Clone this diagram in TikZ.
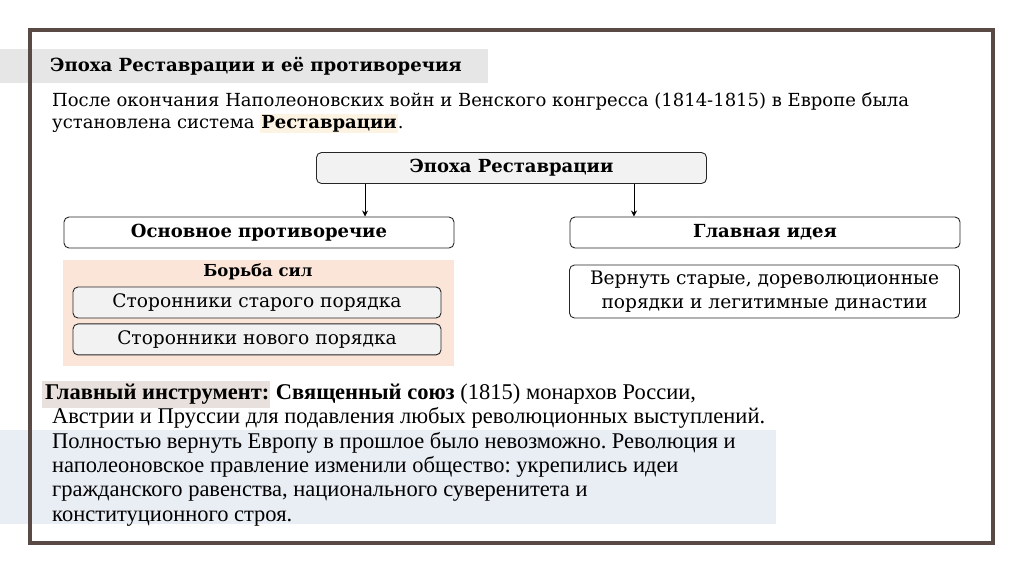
\documentclass[tikz,border=0pt]{standalone}
\usepackage{fontspec}
\setmainfont{DejaVu Serif}
\newfontfamily\narrowfont{Liberation Serif}
\usepackage{xcolor}
\usetikzlibrary{positioning, arrows.meta}
\frenchspacing

\definecolor{framebrown}{HTML}{594A45}
\definecolor{titlegray}{HTML}{E7E6E6}
\definecolor{cream}{HTML}{FDF3E2}
\definecolor{peach}{HTML}{FAE5D8}
\definecolor{boxgray}{HTML}{F2F2F2}
\definecolor{toolbg}{HTML}{E8E0DC}
\definecolor{bluebg}{HTML}{E9EDF4}

\begin{document}
\begin{tikzpicture}[x=1pt, y=-1pt,
      box/.style={draw=black!85, rounded corners=5pt, line width=0.9pt, minimum width=390pt, minimum height=31pt, inner sep=0pt, align=center, font=\fontsize{18}{20}\selectfont\bfseries},
      sidebox/.style={draw=black!85, rounded corners=5pt, line width=0.9pt, fill=boxgray, minimum width=368pt, minimum height=31pt, inner sep=0pt, align=center, font=\fontsize{18.6}{22}\selectfont},
      every edge/.style={draw, line width=0.8pt, -{Stealth[length=6pt, width=6pt]}}
    ]
    \useasboundingbox (0,0) rectangle (1024,574);

    % bands under the text
    \fill[titlegray] (0,49) rectangle (488,83);
    \fill[peach] (63,260) rectangle (454,366);
    \fill[bluebg] (0,430) rectangle (776,524);

    \node[anchor=west, inner sep=0pt, font=\fontsize{18.1}{20}\selectfont\bfseries] (title) at (50,66) {Эпоха Реставрации и её противоречия};
    \node[anchor=north west, align=left, inner sep=0pt, font=\fontsize{18}{22}\selectfont] (intro) at (52,92)
      {После окончания Наполеоновских войн и Венского конгресса (1814-1815) в Европе была\\
       установлена система {\fboxsep=1pt\colorbox{cream}{\bfseries Реставрации}}.};

    % scheme
    \node[box, fill=boxgray] (epoch) at (511.5,168) {Эпоха Реставрации};
    \node[box, fill=white] (conflict) at (259,232.5) {Основное противоречие};
    \node[box, fill=white] (idea) at (765,232.5) {Главная идея};

    \node[font=\fontsize{16.5}{18}\selectfont\bfseries, inner sep=0pt] (struggle) at (258,272) {Борьба сил};
    \node[sidebox] (old) at (257,302.5) {Сторонники старого порядка};
    \node[sidebox, below=5pt of old] (new) {Сторонники нового порядка};

    \node[box, fill=white, minimum height=53pt, font=\fontsize{18.6}{24}\selectfont] (goal) at (764.5,291.5)
      {Вернуть старые, дореволюционные\\порядки и легитимные династии};

    \draw ([xshift=49pt]epoch.south west) edge ([xshift=49pt]epoch.south west |- conflict.north);
    \draw ([xshift=-73pt]epoch.south east) edge ([xshift=-73pt]epoch.south east |- idea.north);

    % lower text
    \node[anchor=north west, align=left, inner sep=0pt, font=\narrowfont\fontsize{22.5}{24}\selectfont] (tool) at (52,381)
      {\hspace*{-10pt}{\fboxsep=3pt\colorbox{toolbg}{\bfseries Главный инструмент:\hspace*{-2pt}}} {\bfseries Священный союз} (1815) монархов России,\\
       Австрии и Пруссии для подавления любых революционных выступлений.};
    \node[anchor=north west, align=left, inner sep=0pt, font=\narrowfont\fontsize{22.5}{24.3}\selectfont] (result) at (52,432)
      {Полностью вернуть Европу в прошлое было невозможно. Революция и\\
       наполеоновское правление изменили общество: укрепились идеи\\
       гражданского равенства, национального суверенитета и\\
       конституционного строя.};

    \draw[framebrown, line width=4pt] (29.5,30) rectangle (993,543);
  \end{tikzpicture}
\end{document}
